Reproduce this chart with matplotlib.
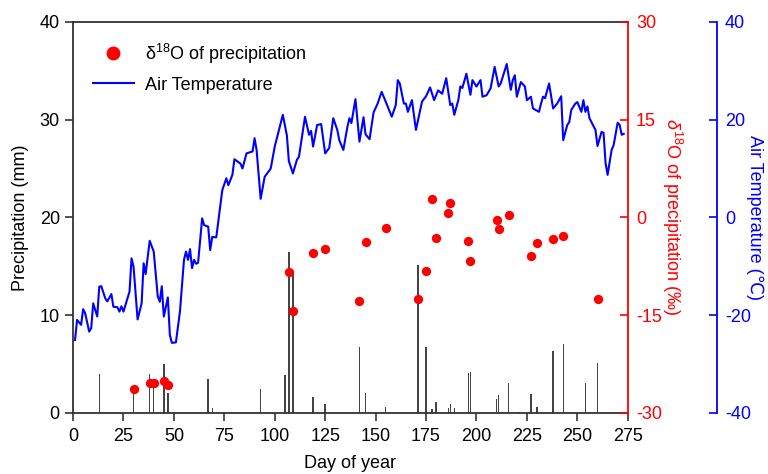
import matplotlib
matplotlib.use("Agg")
import matplotlib.pyplot as plt
from matplotlib.lines import Line2D

plt.rcParams['font.family'] = ['Liberation Sans', 'DejaVu Sans']
plt.rcParams['mathtext.fontset'] = 'custom'
plt.rcParams['mathtext.rm'] = 'Liberation Sans'
plt.rcParams['mathtext.it'] = 'Liberation Sans:italic'
plt.rcParams['mathtext.default'] = 'regular'
plt.rcParams['axes.unicode_minus'] = False

# Daily precipitation (mm)
precip_day = [13, 30, 38, 40, 45, 47, 67, 69, 93, 105, 107, 109, 119, 125,
              142, 145, 155, 171, 175, 178, 180, 186, 187, 189, 193, 196, 197,
              210, 211, 216, 221, 227, 230, 238, 243, 254, 260]
precip_mm = [4.0, 2.3, 4.0, 3.0, 5.0, 2.0, 3.5, 0.5, 2.4, 3.9, 16.5, 14.4, 1.6, 0.9,
             6.7, 2.05, 0.6, 15.1, 6.7, 0.4, 1.1, 0.5, 0.9, 0.5, 0.1, 4.1, 4.2,
             1.4, 1.8, 3.0, 0.1, 1.9, 0.6, 6.3, 7.0, 3.0, 5.1]

# delta 18O of precipitation (permil)
d18o_day = [30, 38, 40, 45, 47, 107, 109, 119, 125, 142, 145, 155, 171, 175,
            178, 180, 186, 187, 196, 197, 210, 211, 216, 227, 230, 238, 243, 260]
d18o_val = [-26.4, -25.4, -25.5, -25.2, -25.7, -8.4, -14.4, -5.5, -4.8, -12.9,
            -3.8, -1.6, -12.6, -8.2, 2.8, -3.2, 0.7, 2.2, -3.6, -6.7, -0.45,
            -1.8, 0.3, -5.9, -3.9, -3.3, -2.8, -12.6]

# Daily mean air temperature (deg C)
temp_day = [1, 2, 4, 5, 6, 8, 9, 10, 12, 13, 14, 16, 17, 19, 20, 22, 23, 24, 25,
            27, 28, 29, 30, 32, 34, 35, 36, 38, 40, 42, 43, 44, 45, 47, 48, 49,
            51, 53, 55, 56, 57, 58, 59, 60, 61, 62, 64, 65, 67, 68, 69, 71, 74,
            76, 77, 79, 80, 82, 83, 84, 86, 89, 90, 91, 93, 95, 98, 100, 104,
            106, 107, 109, 111, 112, 115, 117, 118, 119, 121, 123, 125, 127,
            129, 131, 132, 134, 136, 137, 138, 140, 142, 144, 145, 147, 149,
            151, 153, 155, 158, 160, 161, 162, 164, 165, 166, 168, 170, 173,
            175, 177, 179, 181, 183, 185, 187, 188, 189, 191, 192, 193, 195,
            197, 198, 200, 202, 203, 205, 207, 209, 211, 212, 215, 217, 218,
            219, 220, 222, 224, 225, 227, 228, 231, 232, 233, 234, 236, 238,
            240, 242, 243, 245, 246, 247, 249, 250, 252, 253, 254, 255, 256,
            259, 260, 262, 263, 264, 265, 267, 268, 270, 271, 272, 273]
temp_c = [-25.1, -21.0, -22.0, -18.8, -19.6, -23.4, -22.7, -17.6, -20.3, -14.2,
          -14.1, -16.6, -17.2, -15.7, -18.3, -18.4, -19.3, -18.2, -19.3, -16.6,
          -15.2, -8.4, -10.1, -20.9, -17.6, -9.4, -11.6, -4.8, -7.0, -16.2,
          -17.3, -14.1, -20.3, -16.4, -24.1, -25.7, -25.6, -19.3, -8.7, -7.0,
          -8.7, -6.5, -10.4, -8.7, -9.5, -9.3, -0.2, -1.6, -1.9, -6.7, -4.0,
          -4.1, 5.6, 8.0, 6.6, 8.7, 11.9, 11.3, 11.0, 10.0, 13.1, 13.5, 16.2,
          13.8, 3.8, 8.3, 10.0, 14.5, 21.0, 16.8, 11.5, 9.0, 11.8, 12.4, 20.6,
          16.9, 17.7, 14.5, 18.9, 19.1, 13.1, 14.2, 20.3, 17.9, 15.8, 13.8,
          18.5, 20.3, 19.3, 24.2, 15.5, 20.5, 17.0, 16.0, 21.5, 23.3, 25.7,
          23.7, 20.6, 23.0, 28.1, 27.4, 23.3, 23.3, 21.6, 24.0, 17.9, 23.7,
          24.8, 26.6, 24.0, 26.0, 25.3, 28.5, 23.0, 23.3, 21.0, 24.0, 26.8,
          26.5, 29.4, 25.1, 28.1, 26.8, 28.1, 24.7, 25.0, 26.4, 30.8, 26.8,
          27.4, 31.4, 26.1, 28.1, 29.1, 24.7, 27.7, 26.8, 24.0, 24.7, 22.3,
          21.6, 23.3, 24.7, 24.4, 27.4, 22.3, 23.3, 24.8, 15.8, 18.9, 19.5,
          22.0, 23.3, 23.6, 21.6, 24.0, 21.6, 22.7, 20.3, 17.9, 14.6, 17.5,
          17.3, 11.1, 8.7, 13.8, 14.8, 19.4, 18.9, 16.9, 17.1]

x_ticks = [0, 25, 50, 75, 100, 125, 150, 175, 200, 225, 250, 275]
precip_ticks = [0, 10, 20, 30, 40]
d18o_ticks = [-30, -15, 0, 15, 30]
temp_ticks = [-40, -20, 0, 20, 40]

RED = '#ff0000'
BLUE = '#0000ff'
AXIS = '#333333'
FS = 13

fig = plt.figure(figsize=(7.68, 4.74), dpi=100)
ax = fig.add_axes([0.0951, 0.1293, 0.7223, 0.8243])
ax2 = ax.twinx()
ax3 = ax.twinx()

# Precipitation bars
ax.bar(precip_day, precip_mm, width=0.7, color='#444444', zorder=1)
ax.set_xlim(0, 275)
ax.set_ylim(0, 40)
ax.set_xticks(x_ticks)
ax.set_yticks(precip_ticks)
ax.tick_params(axis='both', direction='out', length=6, width=1.2,
               colors=AXIS, labelcolor='black', labelsize=FS)
ax.tick_params(axis='x', pad=5)
ax.set_xlabel('Day of year', fontsize=FS, labelpad=7)
ax.set_ylabel('Precipitation (mm)', fontsize=FS, labelpad=8)
for s in ['left', 'bottom', 'top']:
    ax.spines[s].set_color(AXIS)
    ax.spines[s].set_linewidth(1.3)
ax.spines['right'].set_visible(False)

# delta 18O points
ax2.scatter(d18o_day, d18o_val, s=45, color=RED, zorder=3, linewidths=0)
ax2.set_ylim(-30, 30)
ax2.set_yticks(d18o_ticks)
ax2.tick_params(axis='y', direction='in', length=6, width=1.2,
                colors=RED, labelsize=FS, pad=6)
for s in ['left', 'bottom', 'top']:
    ax2.spines[s].set_visible(False)
ax2.spines['right'].set_color(RED)
ax2.spines['right'].set_linewidth(1.3)
ax2.set_ylabel(r'$\mathit{\delta}^{18}$O of precipitation (‰)', color=RED,
               fontsize=FS, rotation=270, labelpad=16)

# Air temperature line
ax3.plot(temp_day, temp_c, color=BLUE, lw=1.5, zorder=4)
ax3.set_ylim(-40, 40)
ax3.set_yticks(temp_ticks)
ax3.spines['right'].set_position(('outward', 64))
for s in ['left', 'bottom', 'top']:
    ax3.spines[s].set_visible(False)
ax3.spines['right'].set_color(BLUE)
ax3.spines['right'].set_linewidth(1.3)
ax3.tick_params(axis='y', direction='in', length=6, width=1.2,
                colors=BLUE, labelsize=FS, pad=6)
ax3.set_ylabel('Air Temperature (℃)', color=BLUE, fontsize=FS,
               rotation=270, labelpad=9)

handles = [
    Line2D([], [], marker='o', linestyle='none', color=RED, markersize=9),
    Line2D([], [], color=BLUE, lw=1.5),
]
labels = [r'$\delta^{18}$O of precipitation', 'Air Temperature']
ax3.legend(handles, labels, loc='upper left', bbox_to_anchor=(0.019, 0.973),
           frameon=False, fontsize=FS, borderpad=0, handlelength=2.3,
           handletextpad=0.6, labelspacing=0.6)

fig.savefig('out.png', dpi=100)
